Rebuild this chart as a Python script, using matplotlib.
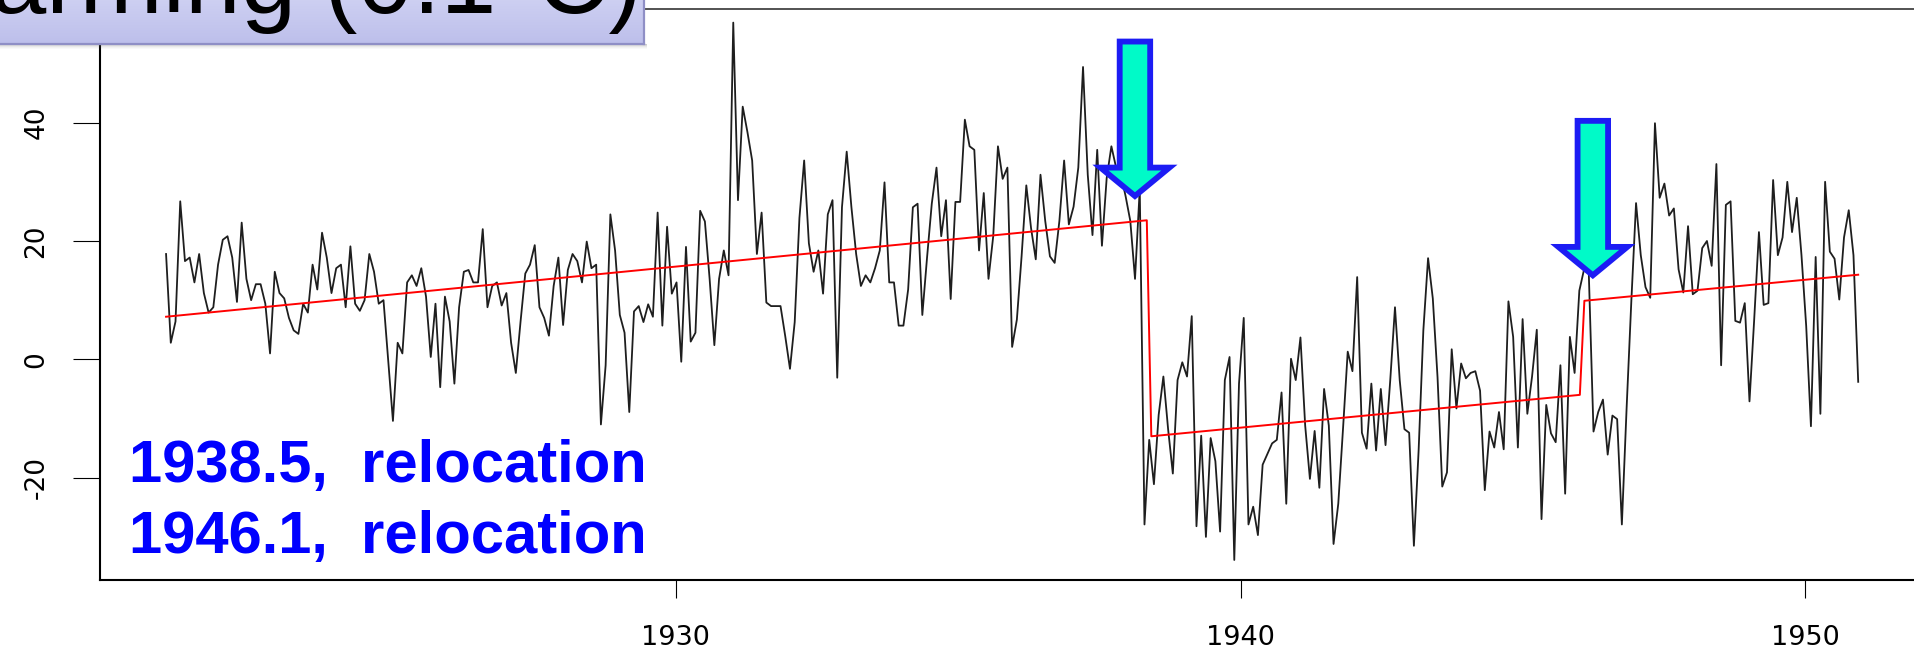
import numpy as np
import matplotlib
matplotlib.use("Agg")
import matplotlib.pyplot as plt
from matplotlib.patches import Polygon, Rectangle
from matplotlib.colors import LinearSegmentedColormap
from matplotlib import font_manager

W, H, DPI = 1914, 649, 100

# ---------------- data ----------------
values = [
    17.8, 2.8, 6.4, 26.7, 16.6, 17.2, 13, 17.8, 11.2, 7.9,
    8.8, 16, 20.2, 20.8, 17.2, 9.7, 23.1, 13.6, 10, 12.7,
    12.7, 9.4, 1, 14.8, 11.2, 10.3, 7, 4.9, 4.3, 9.4,
    7.9, 16, 11.8, 21.4, 17.2, 11.2, 15.4, 16, 8.8, 19.1,
    9.4, 8.2, 10, 17.8, 14.8, 9.4, 10, -0.2, -10.4, 2.8,
    1, 13, 14.2, 12.4, 15.4, 10.6, 0.4, 9.4, -4.7, 10.6,
    6.4, -4.1, 8.8, 14.8, 15.1, 13, 13, 22, 8.8, 12.4,
    13, 9.1, 11.2, 2.8, -2.3, 6.4, 14.5, 16, 19.3, 8.8,
    7, 4, 12.4, 17.2, 5.8, 15.1, 17.8, 16.6, 13,
    19.9, 15.4, 16, -11, -1, 24.5, 18.4, 7.5, 4.5, -8.9,
    8.1, 9, 6.3, 9.3, 7.2, 24.8, 5.7, 22.4, 11.1, 13,
    -0.4, 19, 3, 4.5, 25.1, 23.3, 13.6, 2.4, 13.6, 18.4,
    14.2, 56.9, 26.9, 42.7, 38.4, 33.6, 17.8, 24.8, 9.6, 9,
    9, 9, 3.9, -1.6, 6.3, 23.9, 33.6, 19.6, 14.8, 18.4,
    11.1, 24.5, 26.9, -3.1, 25.7, 35.1, 25.7, 17.8, 12.4, 14.2,
    13, 15.4, 18.4, 29.9, 13, 13, 5.7, 5.7, 11.8, 25.7,
    26.3, 7.5, 17.2, 26.3, 32.4, 20.8, 26.9, 10.2, 26.6, 26.6,
    40.5, 36, 35.4, 18.4, 28.1, 13.6, 20.8, 36, 30.5, 32.4,
    2.1,
    6.7, 17.4, 29.4, 22.2, 16.9, 31.2, 23.4, 17.4, 16.3, 23.4,
    33.6, 22.8, 25.8, 32.4, 49.4, 31.2, 21, 35.4, 19.2, 30.6,
    36, 32.4, 31.2, 27.6, 23.4, 13.6, 28.8, -27.9, -13.6, -21.1,
    -9.4, -2.9, -11.8, -19.3, -3.5, -0.5, -2.9, 7.3, -28.2, -12.9,
    -30, -13.3, -17.2, -29.1, -3.5, 0.4, -33.9, -4.1, 7, -27.9,
    -24.9, -29.7, -17.8, -16, -14.2, -13.6, -5.6, -24.4, 0.1, -3.5,
    3.7, -11.2, -20.2, -12.1, -21.7, -5, -11.2, -31.2, -24.4, -11.8,
    1.3, -2, 13.9, -12.4, -15.1, -4.1, -15.4, -5, -14.5, -3.5,
    8.8, -3.5, -11.8, -12.4, -31.5, -15.4, 4.9, 17.1, 10.3,
    -3,
    -21.5, -19.1, 1.7, -8.3, -0.7, -3.2, -2.3, -2, -5.3, -22.1,
    -12.2, -14.9, -8.9, -15.2, 9.8, 3.8, -14.9, 6.8, -9.2, -2.9,
    5, -27, -7.7, -12.5, -14, -1, -22.7, 3.8, -2.3, 11.6,
    15.2, 14.6, -12.2, -8.9, -6.8, -16.1, -9.5, -10.1, -27.9, -8.3,
    9.8, 26.4, 17.6, 12.2, 10.4, 39.9, 27.3, 29.7, 24.3, 25.5,
    15.2, 11.3, 22.5, 11, 11.6, 18.8, 20, 15.8, 33, -1,
    26.1, 26.7, 6.5, 6.2, 9.5, -7.1, 6.8, 21.5, 9.2, 9.5,
    30.3, 17.6, 20.6, 30, 21.5, 27.3, 17.6, 5.6, -11.3, 17.3,
    -9.2, 30, 18.2, 17, 10.1, 20.6, 25.2, 17.6, -3.8,
]
start_year, end_year = 1920.97, 1950.94
years = np.linspace(start_year, end_year, len(values))

trend_years = [1920.97, 1938.34, 1938.42, 1946.01, 1946.09, 1950.94]
trend_values = [7.2, 23.5, -13.0, -6.0, 9.9, 14.3]

x_ticks = [1930, 1940, 1950]
y_ticks = [-20, 0, 20, 40]

arrow_years = [1938.13, 1946.24]
arrow_tips = [27.6, 14.2]
arrow_tops = [53.7, 40.3]

annot_lines = ["1938.5,  relocation", "1946.1,  relocation"]
title_text = "Warming (0.1°C)"

# narrow font for the rotated y labels if available
_names = {f.name for f in font_manager.fontManager.ttflist}
ylab_family = "Liberation Sans Narrow" if "Liberation Sans Narrow" in _names else "DejaVu Sans"
ylab_size = 24 if ylab_family == "Liberation Sans Narrow" else 19

# ---------------- figure ----------------
fig = plt.figure(figsize=(W / DPI, H / DPI), dpi=DPI)
fig.patch.set_facecolor("white")

px_left, px_right, px_top, px_bot = 100, 1922, 9, 579.5
ax = fig.add_axes([px_left / W, 1 - px_bot / H,
                   (px_right - px_left) / W, (px_bot - px_top) / H])
ax.set_xlim(1919.8, 1952.07)
ax.set_ylim(-37.2, 59.2)

ax.plot(years, values, color="#1e1e1e", lw=1.3, zorder=2)
ax.plot(trend_years, trend_values, color="#ff0000", lw=1.4, zorder=3)

# arrows
shaft_half, head_half, head_len = 0.27, 0.61, 4.8
for xa, tip, top in zip(arrow_years, arrow_tips, arrow_tops):
    hb = tip + head_len
    verts = [(xa - shaft_half, top), (xa + shaft_half, top),
             (xa + shaft_half, hb), (xa + head_half, hb), (xa, tip),
             (xa - head_half, hb), (xa - shaft_half, hb)]
    ax.add_patch(Polygon(verts, closed=True, facecolor="#00fac8",
                         edgecolor="#1c1cf4", lw=4.2, joinstyle="miter",
                         zorder=6, clip_on=False))

# axes styling (R-like box)
for s in ["left", "bottom"]:
    ax.spines[s].set_linewidth(1.5)
    ax.spines[s].set_color("black")
ax.spines["top"].set_linewidth(1.3)
ax.spines["top"].set_color("#444444")
ax.spines["right"].set_visible(False)

ax.set_xticks(x_ticks)
ax.set_xticklabels([str(t) for t in x_ticks])
ax.set_yticks(y_ticks)
ax.set_yticklabels([str(t) for t in y_ticks])
ax.tick_params(axis="x", direction="out", length=13, width=0.8,
               pad=20, labelsize=19.5)
ax.tick_params(axis="y", direction="out", length=19.4, width=0.8,
               pad=17, labelsize=ylab_size, labelrotation=90)
for lab in ax.get_yticklabels():
    lab.set_va("center")
    lab.set_family(ylab_family)

# blue annotation text
for i, line in enumerate(annot_lines):
    fig.text(129 / W, 1 - (482 + 71 * i) / H, line, ha="left", va="baseline",
             fontsize=43, fontweight="bold", family="Liberation Sans",
             color="#0000ff", zorder=8)

# title box (lavender gradient with shadow)
box_r, box_b = 644, 44
for i, a in enumerate([0.35, 0.25, 0.16, 0.09, 0.04]):
    fig.patches.append(Rectangle((0, 1 - (box_b + 1 + i) / H),
                                 (box_r + 3) / W, 1.2 / H,
                                 transform=fig.transFigure,
                                 facecolor="#707070", alpha=a,
                                 edgecolor="none", zorder=4))
bax = fig.add_axes([-0.01, 1 - box_b / H, box_r / W + 0.01, box_b / H + 0.02])
bax.set_zorder(5)
grad = np.linspace(0, 1, 100).reshape(-1, 1)
cmap = LinearSegmentedColormap.from_list("lav", ["#bdbfeb", "#d2d4f4"])
bax.imshow(grad, aspect="auto", cmap=cmap, origin="lower",
           extent=[0, 1, 0, 1])
bax.set_xlim(0, 1)
bax.set_ylim(0, 1)
bax.set_xticks([])
bax.set_yticks([])
for s in ["top", "left"]:
    bax.spines[s].set_visible(False)
for s in ["bottom", "right"]:
    bax.spines[s].set_color("#8f8fc6")
    bax.spines[s].set_linewidth(1.6)

fig.text(642 / W, 1 - 13 / H, title_text, ha="right", va="baseline",
         fontsize=72, family="Liberation Sans", color="black", zorder=10)

fig.savefig("out.png", dpi=DPI, facecolor="white")
